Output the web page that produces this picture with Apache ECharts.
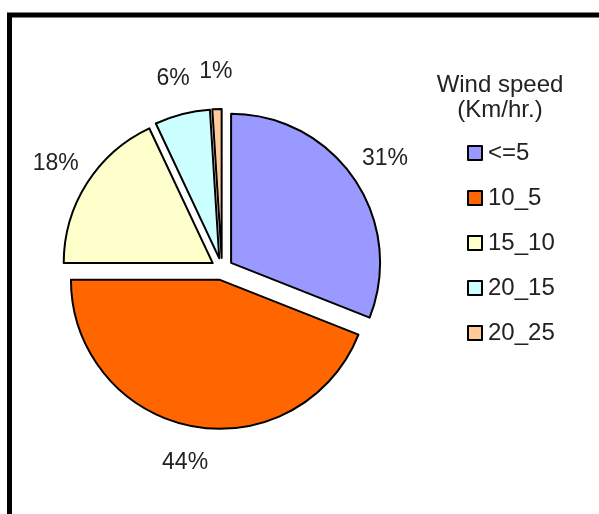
<!DOCTYPE html>
<html>
<head>
<meta charset="utf-8">
<script src="https://cdn.jsdelivr.net/npm/echarts@6/dist/echarts.min.js"></script>
<style>
  html, body { margin: 0; padding: 0; background: #fff; }
  #chart { width: 599px; height: 514px; }
</style>
</head>
<body>
<div id="chart"></div>
<script>
// Share of observations per wind speed class (percent)
const categories = ['<=5', '10_5', '15_10', '20_15', '20_25'];
const shares = [31, 44, 18, 6, 1];
const colors = ['#9999FF', '#FF6600', '#FFFFCC', '#CCFFFF', '#FFCC99'];
const legendTitle = 'Wind speed\n(Km/hr.)';

const FONT = 'Liberation Sans, Arial, sans-serif';
const PIE_CENTER = [222, 269];
const EXPLODE = 11;

const chart = echarts.init(document.getElementById('chart'), null, { renderer: 'canvas' });

// Exploded slices with black outlines
const sliceData = categories.map((name, i) => ({
  name: name,
  value: shares[i],
  selected: true,
  itemStyle: { color: colors[i] }
}));

// Same values on a transparent outer ring: carries the percentage
// labels, centred on each slice's bisector just outside the pie
const labelData = categories.map((name, i) => ({
  name: name,
  value: shares[i],
  selected: true
}));

chart.setOption({
  animation: false,
  backgroundColor: '#ffffff',
  textStyle: { fontFamily: FONT },
  title: {
    text: legendTitle,
    left: 495,
    top: 68,
    textAlign: 'center',
    textStyle: {
      fontSize: 24,
      fontWeight: 'normal',
      color: '#222',
      lineHeight: 25,
      fontFamily: FONT
    }
  },
  legend: {
    orient: 'vertical',
    left: 462,
    top: 136,
    icon: 'rect',
    itemWidth: 14,
    itemHeight: 14,
    itemGap: 21,
    selectedMode: false,
    itemStyle: { borderColor: '#000', borderWidth: 2 },
    textStyle: {
      fontSize: 24,
      color: '#222',
      lineHeight: 24,
      padding: [0, 0, 0, 1],
      fontFamily: FONT
    },
    data: categories
  },
  graphic: [{
    type: 'rect',
    silent: true,
    shape: { x: 9.5, y: 15, width: 700, height: 600 },
    style: { fill: 'none', stroke: '#000', lineWidth: 5 }
  }],
  series: [{
    type: 'pie',
    center: PIE_CENTER,
    radius: 149,
    startAngle: 90,
    clockwise: true,
    selectedMode: 'multiple',
    selectedOffset: EXPLODE,
    emphasis: { disabled: true },
    itemStyle: { borderColor: '#000', borderWidth: 2 },
    select: { itemStyle: { borderColor: '#000', borderWidth: 2 } },
    label: { show: false },
    labelLine: { show: false },
    data: sliceData
  }, {
    type: 'pie',
    silent: true,
    center: PIE_CENTER,
    radius: [172, 194],
    startAngle: 90,
    clockwise: true,
    selectedMode: 'multiple',
    selectedOffset: EXPLODE,
    emphasis: { disabled: true },
    itemStyle: { color: 'rgba(0,0,0,0)', borderWidth: 0 },
    select: { itemStyle: { color: 'rgba(0,0,0,0)', borderWidth: 0 } },
    label: {
      show: true,
      position: 'inside',
      formatter: '{c}%',
      fontSize: 23,
      color: '#222',
      fontFamily: FONT
    },
    labelLine: { show: false },
    data: labelData
  }]
});
</script>
</body>
</html>
